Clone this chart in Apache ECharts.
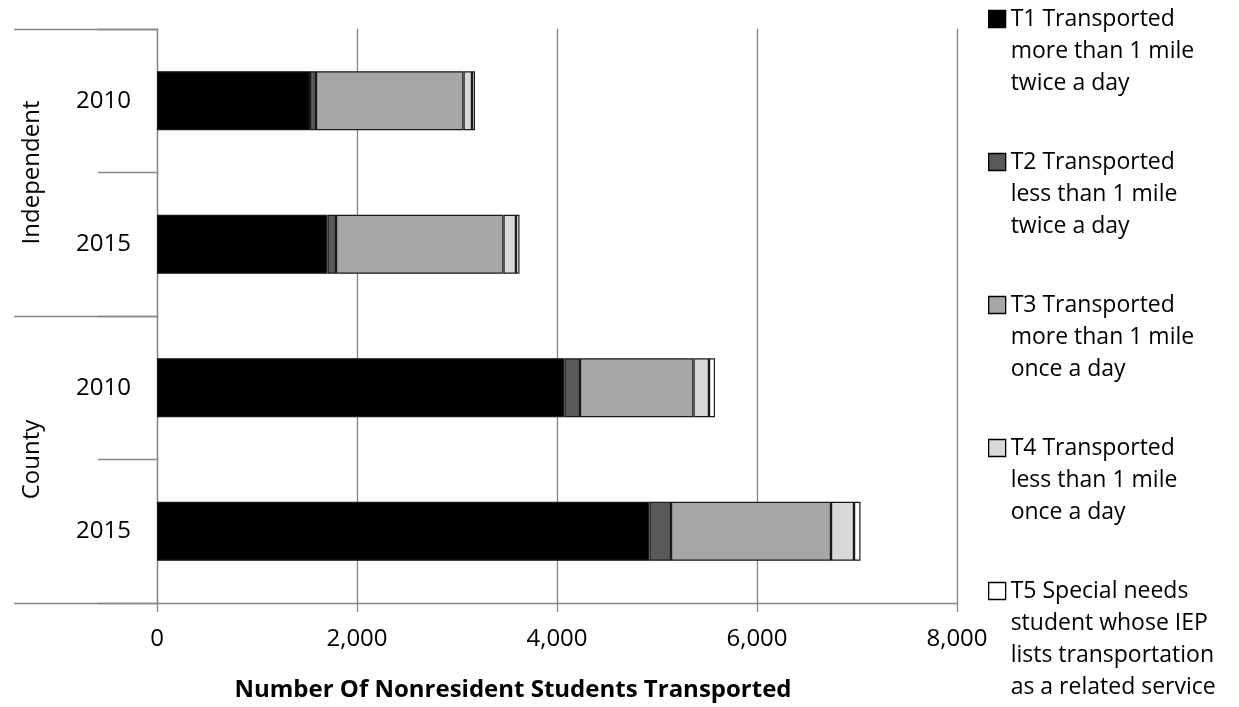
<!DOCTYPE html>
<html>
<head>
<meta charset="utf-8">
<script src="https://cdn.jsdelivr.net/npm/echarts@6/dist/echarts.min.js"></script>
<style>
  html, body { margin: 0; padding: 0; background: #ffffff; }
  #chart { width: 1239px; height: 707px; }
</style>
</head>
<body>
<div id="chart"></div>
<script>
// Rows, top to bottom: district type and school year
const groups = ['Independent', 'County'];
const rowGroup = ['Independent', 'Independent', 'County', 'County'];
const years = ['2010', '2015', '2010', '2015'];

// Legend / series labels
const seriesNames = [
  'T1 Transported\nmore than 1 mile\ntwice a day',
  'T2 Transported\nless than 1 mile\ntwice a day',
  'T3 Transported\nmore than 1 mile\nonce a day',
  'T4 Transported\nless than 1 mile\nonce a day',
  'T5 Special needs\nstudent whose IEP\nlists transportation\nas a related service'
];

// Nonresident students transported, per row
const t1 = [1530, 1705, 4075, 4925];
const t2 = [60, 85, 155, 215];
const t3 = [1475, 1675, 1135, 1600];
const t4 = [85, 125, 155, 230];
const t5 = [30, 35, 60, 65];

// Value axis ticks
const xMin = 0;
const xMax = 8000;
const xStep = 2000;

const seriesValues = [t1, t2, t3, t4, t5];
const fills = ['#000000', '#595959', '#a6a6a6', '#d9d9d9', '#ffffff'];
const FONT = 'Open Sans';
const GRAY = '#868686';
const rowKeys = years.map((y, i) => rowGroup[i] + ' ' + y);

// Legend: one block per series; blank lines above the text keep the
// icon level with the first text line (legend icons sit at the text centre)
const LEG_LH = 32;
const LEG_FIRST = 19;
const LEG_STEP = 143;
const legends = seriesNames.map((name, i) => {
  const lines = name.split('\n').length;
  const lead = lines - 1;
  return {
    orient: 'vertical',
    left: 988,
    top: LEG_FIRST + i * LEG_STEP - lead * LEG_LH - LEG_LH / 2,
    padding: 0,
    selectedMode: false,
    icon: 'rect',
    itemWidth: 17,
    itemHeight: 17,
    itemStyle: { borderColor: '#000000', borderWidth: 1.3 },
    data: [name],
    formatter: n => '\n'.repeat(lead) + n,
    textStyle: {
      fontFamily: FONT, fontSize: 23, lineHeight: LEG_LH, color: '#000000'
    }
  };
});

const chart = echarts.init(document.getElementById('chart'), null, { renderer: 'canvas' });
chart.setOption({
  animation: false,
  backgroundColor: '#ffffff',
  legend: legends,
  grid: { left: 157, right: 282, top: 29, bottom: 104, containLabel: false },
  xAxis: {
    type: 'value',
    min: xMin, max: xMax, interval: xStep,
    axisLine: { show: true, lineStyle: { color: GRAY, width: 1.3 } },
    axisTick: { show: true, length: 9, lineStyle: { color: GRAY, width: 1.3 } },
    splitLine: { show: true, lineStyle: { color: GRAY, width: 1.3 } },
    axisLabel: {
      fontFamily: FONT, fontSize: 24, color: '#000000', margin: 24,
      formatter: v => v.toLocaleString('en-US')
    },
    name: 'Number Of Nonresident Students Transported',
    nameLocation: 'middle',
    nameGap: 75,
    nameTextStyle: {
      fontFamily: FONT, fontSize: 24, fontWeight: 'bold', color: '#000000',
      padding: [0, 88, 0, 0]
    }
  },
  yAxis: [
    {
      type: 'category',
      data: rowKeys,
      inverse: true,
      position: 'left',
      axisLine: { show: true, lineStyle: { color: GRAY, width: 1.3 } },
      axisTick: { show: true, length: 59, alignWithLabel: false, lineStyle: { color: GRAY, width: 1.3 } },
      axisLabel: {
        fontFamily: FONT, fontSize: 24, color: '#000000', margin: 26,
        formatter: v => v.split(' ')[1]
      }
    },
    {
      type: 'category',
      data: groups,
      inverse: true,
      position: 'left',
      axisLine: { show: false },
      axisTick: { show: true, length: 143, lineStyle: { color: GRAY, width: 1.3 } },
      axisLabel: {
        fontFamily: FONT, fontSize: 24, color: '#000000', rotate: 90, margin: 113
      }
    }
  ],
  series: seriesNames.map((name, i) => ({
    name: name,
    type: 'bar',
    stack: 'total',
    yAxisIndex: 0,
    barWidth: 59,
    data: seriesValues[i],
    itemStyle: { color: fills[i], borderColor: '#1a1a1a', borderWidth: 1.2 },
    emphasis: { disabled: true }
  }))
});
</script>
</body>
</html>
